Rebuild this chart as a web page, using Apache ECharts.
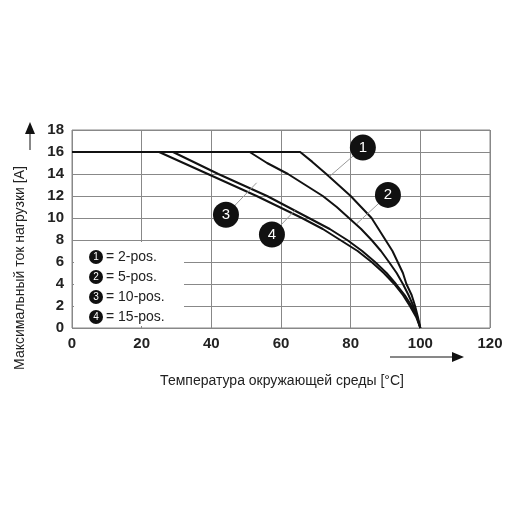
<!DOCTYPE html><html><head><meta charset="utf-8"><script src="https://cdn.jsdelivr.net/npm/echarts@6/dist/echarts.min.js"></script></head><body style="margin:0"><div id="c" style="width:510px;height:510px"></div><script>
const xTicks=[0,20,40,60,80,100,120];
const yTicks=[0,2,4,6,8,10,12,14,16,18];
const curve1=[[0,16],[65.5,16],[69,15.1],[73,14],[76.5,13],[80,12],[83,11],[86,10],[88,9],[90,8],[92,7],[93.5,6],[95,5],[96,4],[97.5,3],[98.5,2],[99.3,1],[100,0]];
const curve2=[[0,16],[51,16],[56,15],[62,14],[67,13],[72,12],[76,11],[79.5,10],[83,9],[86,8],[88.7,7],[91,6],[93.2,5],[95,4],[96.6,3],[98,2],[99.1,1],[100,0]];
const curve3=[[0,16],[29,16],[35.5,15],[42,14],[49,13],[56,12],[62,11],[68,10],[74,9],[79,8],[83.3,7],[87,6],[90.3,5],[93,4],[95.5,3],[97.5,2],[99,1],[100,0]];
const curve4=[[0,16],[25,16],[32,15],[39,14],[46,13],[53,12],[59.5,11],[66,10],[72,9],[77,8],[82,7],[86,6],[89.5,5],[92.5,4],[95,3],[97,2],[98.8,1],[100,0]];
const badges=[["1",[83.5,16.4],[74,13.8]],["2",[90.7,12.1],[81.8,9.5]],["3",[44.2,10.3],[53,13.2]],["4",[57.4,8.5],[64,10.7]]];
const legendItems=["= 2-pos.","= 5-pos.","= 10-pos.","= 15-pos."];
const F='Liberation Sans, Arial, sans-serif';
const ch=echarts.init(document.getElementById('c'));
const series=[curve1,curve2,curve3,curve4].map(d=>({type:'line',data:d,symbol:'none',lineStyle:{color:'#111',width:2},smooth:false,z:3}));
badges.forEach(b=>{series.push({type:'line',data:[b[2],b[1]],symbol:'none',lineStyle:{color:'#999',width:1},z:4});});
series.push({type:'scatter',data:badges.map(b=>({value:b[1],name:b[0]})),symbolSize:26,itemStyle:{color:'#111',opacity:1},z:5,label:{show:true,position:'inside',formatter:p=>p.name,color:'#fff',fontSize:15,fontFamily:F}});
const g=[];
g.push({type:'rect',shape:{x:74,y:242,width:110,height:84},style:{fill:'#fff'},z:10});
legendItems.forEach((t,i)=>{const y=257+i*20;
g.push({type:'circle',shape:{cx:96,cy:y,r:7},style:{fill:'#111'},z:11});
g.push({type:'text',x:96,y:y,style:{text:String(i+1),fill:'#fff',fontSize:10,align:'center',verticalAlign:'middle',fontFamily:F},z:12});
g.push({type:'text',x:106,y:y,style:{text:t,fill:'#222',fontSize:14,verticalAlign:'middle',fontFamily:F},z:12});});
g.push({type:'line',shape:{x1:30,y1:150,x2:30,y2:126},style:{stroke:'#111',lineWidth:1},z:10});
g.push({type:'polygon',shape:{points:[[25,134],[35,134],[30,122]]},style:{fill:'#111'},z:10});
g.push({type:'line',shape:{x1:390,y1:357,x2:455,y2:357},style:{stroke:'#111',lineWidth:1},z:10});
g.push({type:'polygon',shape:{points:[[452,352],[452,362],[464,357]]},style:{fill:'#111'},z:10});
g.push({type:'text',x:20,y:268,rotation:Math.PI/2,style:{text:'Максимальный ток нагрузки [A]',fill:'#222',fontSize:14,align:'center',verticalAlign:'middle',fontFamily:F},z:10});
g.push({type:'text',x:282,y:381,style:{text:'Температура окружающей среды [°C]',fill:'#222',fontSize:14,align:'center',verticalAlign:'middle',fontFamily:F},z:10});
ch.setOption({animation:false,grid:{left:72,right:20,top:130,bottom:182,show:true,borderColor:'#888',borderWidth:1},
xAxis:{type:'value',min:0,max:120,interval:20,axisLine:{show:false},axisTick:{show:false},splitLine:{lineStyle:{color:'#888'}},axisLabel:{color:'#222',fontSize:15,fontWeight:'bold',fontFamily:F,margin:8,formatter:v=>xTicks.includes(v)?v:''}},
yAxis:{type:'value',min:0,max:18,interval:2,axisLine:{show:false},axisTick:{show:false},splitLine:{lineStyle:{color:'#888'}},axisLabel:{color:'#222',fontSize:15,fontWeight:'bold',fontFamily:F,margin:8,formatter:v=>yTicks.includes(v)?v:''}},
series:series,graphic:g});
</script></body></html>
